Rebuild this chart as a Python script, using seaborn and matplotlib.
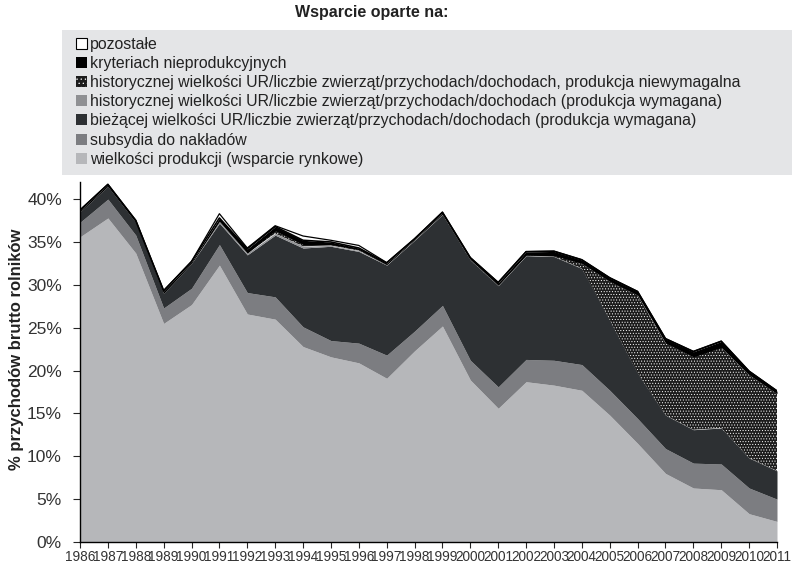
import numpy as np
import seaborn as sns
import matplotlib
matplotlib.use("Agg")
import matplotlib.pyplot as plt
from matplotlib.patches import Patch, Rectangle

# dane (% przychodów brutto rolników)
lata = list(range(1986, 2012))
wielkosci_produkcji = [35.6, 37.8, 33.7, 25.5, 27.7, 32.3, 26.6, 26.0, 22.8, 21.6, 20.9, 19.1, 22.3,
                       25.2, 18.9, 15.6, 18.7, 18.3, 17.7, 14.8, 11.5, 8.0, 6.3, 6.1, 3.3, 2.4]
subsydia = [1.7, 2.2, 2.1, 1.8, 1.9, 2.4, 2.5, 2.6, 2.3, 1.9, 2.3, 2.7, 2.3,
            2.4, 2.3, 2.5, 2.6, 2.9, 3.0, 2.9, 2.9, 2.9, 2.9, 3.0, 3.0, 2.6]
biezacej = [1.2, 1.5, 1.5, 1.7, 2.9, 2.5, 4.4, 7.2, 9.2, 11.0, 10.7, 10.5, 10.6,
            10.6, 11.7, 11.8, 12.1, 12.1, 11.2, 8.2, 5.3, 3.9, 3.9, 4.2, 3.5, 3.3]
hist_wymagana = [0, 0, 0, 0, 0, 0.2, 0.2, 0.2, 0.2, 0.1, 0.1, 0, 0,
                 0, 0, 0, 0, 0, 0, 0, 0, 0, 0, 0, 0, 0]
hist_niewymagalna = [0, 0, 0, 0, 0, 0, 0, 0.3, 0.2, 0.1, 0.1, 0.05, 0.05,
                     0.05, 0.05, 0.05, 0.05, 0.1, 0.6, 4.5, 9.1, 8.4, 8.5, 9.4, 9.7, 9.0]
kryteriach = [0.2, 0.2, 0.2, 0.3, 0.2, 0.4, 0.5, 0.5, 0.5, 0.3, 0.2, 0.2, 0.1,
              0.2, 0.2, 0.3, 0.4, 0.5, 0.4, 0.4, 0.4, 0.5, 0.6, 0.7, 0.4, 0.3]
pozostale = [0.05, 0.05, 0.05, 0.05, 0.05, 0.5, 0.1, 0.1, 0.5, 0.2, 0.3, 0.05, 0.05,
             0.05, 0.05, 0.05, 0.05, 0.05, 0.05, 0.05, 0.05, 0.05, 0.05, 0.05, 0.05, 0.05]

etykiety = [
    "wielkości produkcji (wsparcie rynkowe)",
    "subsydia do nakładów",
    "bieżącej wielkości UR/liczbie zwierząt/przychodach/dochodach (produkcja wymagana)",
    "historycznej wielkości UR/liczbie zwierząt/przychodach/dochodach (produkcja wymagana)",
    "historycznej wielkości UR/liczbie zwierząt/przychodach/dochodach, produkcja niewymagalna",
    "kryteriach nieprodukcyjnych",
    "pozostałe",
]
kolory = ["#b6b7ba", "#7c7d81", "#2d3033", "#8f9093", "#1c1c1c", "#000000", "#ffffff"]

sns.set_style("white")
plt.rcParams["font.family"] = ["Liberation Sans", "DejaVu Sans"]
plt.rcParams["hatch.color"] = "white"
plt.rcParams["hatch.linewidth"] = 0.4

fig = plt.figure(figsize=(7.92, 5.71), dpi=100)
ax = fig.add_axes([80 / 792, 29 / 571, 697 / 792, 360 / 571])

warstwy = [wielkosci_produkcji, subsydia, biezacej, hist_wymagana, hist_niewymagalna, kryteriach, pozostale]
polys = ax.stackplot(lata, *warstwy, colors=kolory, linewidth=0)
polys[4].set_hatch("......")
polys[4].set_edgecolor("white")

suma = np.sum(np.array(warstwy), axis=0)
ax.plot(lata, suma, color="black", lw=0.9)
ax.plot(lata, suma - np.array(pozostale), color="black", lw=1.2)

ax.set_xlim(1986, 2011)
ax.set_ylim(0, 42)
ax.set_xticks(lata)
ax.set_xticklabels([str(r) for r in lata], fontsize=9.8, color="#333333")
ax.set_yticks(range(0, 45, 5))
ax.set_yticklabels([f"{v}%" for v in range(0, 45, 5)], fontsize=12.5, color="#333333")
ax.tick_params(axis="x", direction="out", length=4, width=0.8, pad=2, bottom=True)
ax.tick_params(axis="y", direction="out", length=5, width=0.8, pad=8, left=True)
for s in ["top", "right"]:
    ax.spines[s].set_visible(False)
for s in ["left", "bottom"]:
    ax.spines[s].set_color("black")
    ax.spines[s].set_linewidth(1.0)

fig.text(17 / 792, 1 - 349 / 571, "% przychodów brutto rolników", rotation=90,
         ha="center", va="center", fontsize=12, fontweight="bold", color="#222222")
fig.text(372 / 792, 1 - 13 / 571, "Wsparcie oparte na:", ha="center", va="center",
         fontsize=11.5, fontweight="bold", color="#222222")

# szare tło legendy
fig.patches.append(Rectangle((62 / 792, 1 - 175 / 571), 730 / 792, 145 / 571,
                             transform=fig.transFigure, facecolor="#e4e5e7", edgecolor="none", zorder=0))

uchwyty = []
for lab, kol, i in zip(etykiety, kolory, range(7)):
    if i == 4:
        uchwyty.append(Patch(facecolor=kol, edgecolor="white", hatch="....", lw=0, label=lab))
    elif i == 6:
        uchwyty.append(Patch(facecolor="white", edgecolor="black", lw=0.8, label=lab))
    else:
        uchwyty.append(Patch(facecolor=kol, edgecolor="none", label=lab))
uchwyty = uchwyty[::-1]
fig.legend(handles=uchwyty, loc="upper left", bbox_to_anchor=(76 / 792, 1 - 37 / 571),
           frameon=False, fontsize=11.4, handlelength=0.7, handleheight=0.7,
           handletextpad=0.2, labelspacing=0.26, borderaxespad=0, borderpad=0,
           labelcolor="#222222")

fig.savefig("out.png", dpi=100)
